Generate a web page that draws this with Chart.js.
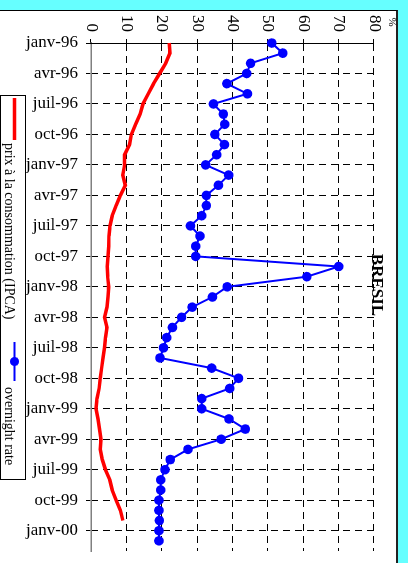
<!DOCTYPE html>
<html>
<head>
<meta charset="utf-8">
<script src="https://cdn.jsdelivr.net/npm/chart.js@4"></script>
<style>
    body { margin: 0; background: #66ffff; width: 408px; height: 563px; overflow: hidden; position: relative; }
    #wrap { position: absolute; left: 0; top: 0; width: 563px; height: 408px; transform-origin: 0 0; transform: translate(408px, 0) rotate(90deg); }
    #box { position: absolute; left: 10px; top: 10px; width: 560px; height: 396px; background: #fff; border-left: 1px solid #000; border-top: 2px solid #222; border-bottom: 1px solid #000; }
    #myChart { position: absolute; left: 0; top: 0; }
</style>
</head>
<body>
<div id="wrap">
    <div id="box"></div>
    <canvas id="myChart" width="563" height="408"></canvas>
</div>
<script>
var ctx = document.getElementById('myChart').getContext('2d');

const labels = [
    'janv-96', 'févr-96', 'mars-96', 'avr-96', 'mai-96', 'juin-96', 'juil-96', 'août-96', 'sept-96', 'oct-96', 'nov-96', 'déc-96',
    'janv-97', 'févr-97', 'mars-97', 'avr-97', 'mai-97', 'juin-97', 'juil-97', 'août-97', 'sept-97', 'oct-97', 'nov-97', 'déc-97',
    'janv-98', 'févr-98', 'mars-98', 'avr-98', 'mai-98', 'juin-98', 'juil-98', 'août-98', 'sept-98', 'oct-98', 'nov-98', 'déc-98',
    'janv-99', 'févr-99', 'mars-99', 'avr-99', 'mai-99', 'juin-99', 'juil-99', 'août-99', 'sept-99', 'oct-99', 'nov-99', 'déc-99',
    'janv-00', 'févr-00', 'mars-00'
]

// prix à la consommation (IPCA), %
const ipca = [
    22.1, 22.3, 21.1, 19.4, 17.7, 16.2, 14.7, 13.9, 12.6, 11.4, 10.9, 9.5,
    9.5, 9.0, 9.7, 8.3, 7.1, 6.0, 5.4, 5.1, 5.0, 4.8, 4.6, 4.7,
    5.0, 4.8, 4.5, 3.8, 4.5, 4.1, 3.8, 3.4, 3.0, 2.6, 2.3, 1.7,
    1.4, 2.0, 2.4, 2.8, 2.6, 3.2, 4.1, 5.3, 6.0, 7.1, 8.3, 9.0
]

// overnight rate, %
const overnight = [
    51.1, 54.2, 45.1, 44.0, 38.4, 44.2, 34.6, 37.4, 37.8, 35.0, 37.7, 35.5,
    32.4, 38.9, 36.0, 32.6, 32.6, 31.3, 28.1, 30.8, 29.6, 29.6, 70.0, 61.0,
    38.5, 34.3, 28.6, 25.6, 23.0, 21.4, 20.5, 19.5, 34.1, 41.7, 39.2, 31.3,
    31.3, 39.0, 43.6, 36.8, 27.4, 22.4, 20.9, 19.7, 19.7, 19.2, 19.2, 19.3,
    19.2, 19.2
]

const seriesNames = ['prix à la consommation (IPCA)', 'overnight rate'];
const title = 'BRESIL';
const serif = '"Liberation Serif", "Times New Roman", serif';

// title, unit and legend (drawn in the rotated canvas)
const extras = {
    id: 'extras',
    afterDraw(chart) {
        const c = chart.ctx;
        c.save();
        c.fillStyle = '#000';
        c.font = 'bold 17px ' + serif;
        c.textAlign = 'center';
        c.textBaseline = 'alphabetic';
        c.fillText(title, 285, 36);

        c.font = '11px ' + serif;
        c.fillText('%', 22, 19);

        // legend box
        c.strokeStyle = '#000';
        c.lineWidth = 1;
        c.strokeRect(95.5, 382.5, 384, 25);

        c.strokeStyle = '#ff0000';
        c.lineWidth = 3.5;
        c.beginPath();
        c.moveTo(98, 393.5);
        c.lineTo(140, 393.5);
        c.stroke();

        c.font = '14px ' + serif;
        c.textAlign = 'left';
        c.fillStyle = '#000';
        c.fillText(seriesNames[0], 143, 403);

        c.strokeStyle = '#0000ff';
        c.lineWidth = 2;
        c.beginPath();
        c.moveTo(342, 393.5);
        c.lineTo(381, 393.5);
        c.stroke();
        c.fillStyle = '#0000ff';
        c.beginPath();
        c.arc(361.5, 393.5, 4.5, 0, Math.PI * 2);
        c.fill();

        c.fillStyle = '#000';
        c.fillText(seriesNames[1], 387, 403);
        c.restore();
    }
};

const data = {
    labels,
    datasets: [{
        label: seriesNames[0],
        data: ipca,
        borderColor: '#ff0000',
        borderWidth: 3.5,
        pointRadius: 0,
        fill: false,
        tension: 0,
    }, {
        label: seriesNames[1],
        data: overnight,
        borderColor: '#0000ff',
        backgroundColor: '#0000ff',
        borderWidth: 2,
        pointRadius: 4.8,
        pointBorderWidth: 0,
        fill: false,
        tension: 0,
    }]
}

const config = {
    type: 'line',
    data: data,
    options: {
        responsive: false,
        animation: false,
        devicePixelRatio: 1,
        layout: {
            padding: { top: 34, right: 12, left: 0, bottom: 0 }
        },
        plugins: {
            legend: { display: false },
            tooltip: { enabled: false },
            title: { display: false }
        },
        scales: {
            x: {
                type: 'category',
                offset: false,
                afterFit: function (scale) { scale.height = 91; },
                border: { display: true, color: '#808080', width: 1.5, dash: [7, 5] },
                grid: {
                    color: function (c) { return c.index === 0 ? 'rgba(0,0,0,0)' : '#000'; },
                    lineWidth: 1,
                    tickColor: '#000',
                    tickLength: 5,
                    drawOnChartArea: true,
                },
                ticks: {
                    autoSkip: false,
                    minRotation: 90,
                    maxRotation: 90,
                    padding: 8,
                    color: '#000',
                    font: { family: serif, size: 17 },
                    callback: function (value, index) {
                        return index % 3 === 0 ? this.getLabelForValue(value) : null;
                    }
                }
            },
            y: {
                min: 0,
                max: 80,
                afterFit: function (scale) { scale.width = 43; },
                border: { display: true, color: '#000', width: 1, dash: [7, 5] },
                grid: {
                    color: function (c) { return c.tick && c.tick.value === 0 ? 'rgba(0,0,0,0)' : '#000'; },
                    lineWidth: 1,
                    tickColor: '#000',
                    tickLength: 4,
                },
                ticks: {
                    stepSize: 10,
                    padding: 7,
                    color: '#000',
                    font: { family: serif, size: 17 }
                }
            }
        }
    },
    plugins: [extras]
};

const myChart = new Chart(ctx, config);
</script>
</body>
</html>
